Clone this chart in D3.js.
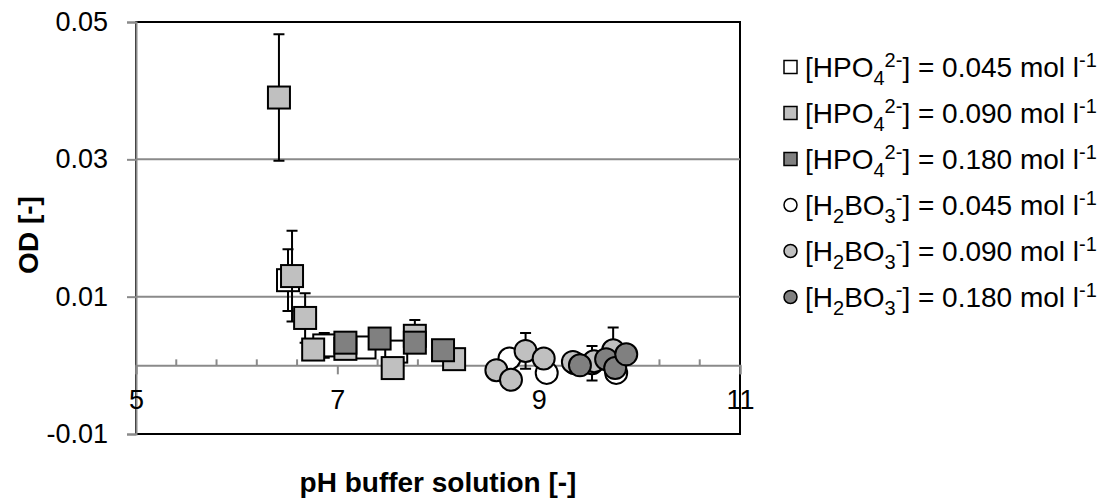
<!DOCTYPE html>
<html><head><meta charset="utf-8">
<script src="https://cdn.jsdelivr.net/npm/d3@7"></script>
<style>body{margin:0;background:#fff}svg{display:block}text{font-family:"Liberation Sans",Arial,sans-serif;fill:#000}</style>
</head><body>
<svg id="c" width="1109" height="501"></svg>
<script>
// ---- data ----
const xTicks = [5, 7, 9, 11];
const yTicks = [-0.01, 0.01, 0.03, 0.05];
const gridY = [0.01, 0.03];

const hpo045_pH  = [6.51, 6.87, 7.27, 7.585];
const hpo045_OD  = [0.0124, 0.0029, 0.0026, 0.0020];
const hpo045_err = [0.0045, 0.0018, 0.0010, 0.0010];

const hpo090_pH  = [6.42, 6.55, 6.68, 6.76, 7.08, 7.55, 7.77, 8.16];
const hpo090_OD  = [0.0390, 0.0130, 0.0069, 0.0023, 0.0024, -0.0004, 0.0043, 0.0009];
const hpo090_err = [0.0092, 0.0066, 0.0036, 0.0010, 0.0008, 0.0010, 0.0023, 0.0008];

const hpo180_pH  = [7.08, 7.42, 7.77, 8.05];
const hpo180_OD  = [0.0033, 0.0039, 0.0033, 0.0022];
const hpo180_err = [0.0010, 0.0008, 0.0010, 0.0006];

const bo045_pH  = [8.71, 9.08, 9.36, 9.53, 9.77];
const bo045_OD  = [0.0010, -0.0011, 0.0003, 0.0003, -0.0011];
const bo045_err = [0.0008, 0.0008, 0.0005, 0.0025, 0.0008];

const bo090_pH  = [8.58, 8.725, 8.87, 9.05, 9.34, 9.55, 9.74];
const bo090_OD  = [-0.0007, -0.0021, 0.0021, 0.0010, 0.0005, 0.0006, 0.0022];
const bo090_err = [0.0005, 0.0005, 0.0026, 0.0008, 0.0005, 0.0008, 0.0033];

const bo180_pH  = [9.41, 9.67, 9.76, 9.87];
const bo180_OD  = [0.0000, 0.0009, -0.0004, 0.0016];
const bo180_err = [0.0005, 0.0006, 0.0005, 0.0006];

const seriesNames = [
  {ion:"HPO", sub:"4", sup:"2-", conc:"0.045"},
  {ion:"HPO", sub:"4", sup:"2-", conc:"0.090"},
  {ion:"HPO", sub:"4", sup:"2-", conc:"0.180"},
  {ion:"H", sub:"2", mid:"BO", sub2:"3", sup:"-", conc:"0.045"},
  {ion:"H", sub:"2", mid:"BO", sub2:"3", sup:"-", conc:"0.090"},
  {ion:"H", sub:"2", mid:"BO", sub2:"3", sup:"-", conc:"0.180"}
];
const series = [
  {x:hpo045_pH, y:hpo045_OD, e:hpo045_err, shape:"square", fill:"#ffffff"},
  {x:hpo090_pH, y:hpo090_OD, e:hpo090_err, shape:"square", fill:"#c0c0c0"},
  {x:hpo180_pH, y:hpo180_OD, e:hpo180_err, shape:"square", fill:"#808080"},
  {x:bo045_pH, y:bo045_OD, e:bo045_err, shape:"circle", fill:"#ffffff"},
  {x:bo090_pH, y:bo090_OD, e:bo090_err, shape:"circle", fill:"#c0c0c0"},
  {x:bo180_pH, y:bo180_OD, e:bo180_err, shape:"circle", fill:"#808080"}
];

// ---- layout ----
const L = 136, R = 740, T = 22, B = 434;
const FONT = '"Liberation Sans",Arial,sans-serif';
const svg = d3.select("#c");
const x = d3.scaleLinear().domain([5, 11]).range([L, R]);
const y = d3.scaleLinear().domain([-0.01, 0.05]).range([B, T]);
const grey = "#8a8a8a";

// plot border
svg.append("rect").attr("x", L).attr("y", T).attr("width", R - L).attr("height", B - T)
  .attr("fill", "none").attr("stroke", "#000").attr("stroke-width", 2);

// gridlines
svg.selectAll(".grid").data(gridY).join("line")
  .attr("x1", L).attr("x2", R).attr("y1", d => y(d)).attr("y2", d => y(d))
  .attr("stroke", grey).attr("stroke-width", 2);

// y axis
const yAxis = d3.axisLeft(y).tickValues(yTicks).tickSize(9).tickPadding(19)
  .tickFormat(d => d3.format(".2f")(d).replace("\u2212", "-"));
const gy = svg.append("g").attr("transform", `translate(${L},0)`).call(yAxis);
gy.select(".domain").attr("stroke", grey).attr("stroke-width", 2);
gy.selectAll(".tick line").attr("stroke", grey).attr("stroke-width", 2);
gy.selectAll(".tick text").style("font-size", "27px").style("font-family", FONT).attr("fill", "#000");

// x axis at y=0
const x0 = y(0);
const minor = d3.range(5, 11.0001, 0.4).filter(v => !xTicks.some(t => Math.abs(t - v) < 1e-6));
svg.selectAll(".minor").data(minor).join("line")
  .attr("x1", d => x(d)).attr("x2", d => x(d)).attr("y1", x0).attr("y2", x0 - 6)
  .attr("stroke", grey).attr("stroke-width", 2);
const xAxis = d3.axisBottom(x).tickValues(xTicks).tickSize(9).tickPadding(16).tickFormat(d3.format("d"));
const gx = svg.append("g").attr("transform", `translate(0,${x0})`).call(xAxis);
gx.select(".domain").attr("stroke", grey).attr("stroke-width", 2);
gx.selectAll(".tick line").attr("stroke", grey).attr("stroke-width", 2);
gx.selectAll(".tick text").style("font-size", "27px").style("font-family", FONT).attr("fill", "#000");

// axis titles
svg.append("text").attr("transform", `translate(38,235) rotate(-90)`).attr("text-anchor", "middle")
  .style("font-size", "28px").style("font-weight", "bold").text("OD [-]");
svg.append("text").attr("x", 438).attr("y", 492).attr("text-anchor", "middle")
  .style("font-size", "28px").style("font-weight", "bold").text("pH buffer solution [-]");

// series
const cap = 5.5, half = 11, rad = 11;
series.forEach(s => {
  const g = svg.append("g");
  const pts = s.x.map((v, i) => ({px: v, py: s.y[i], e: s.e[i]}));
  g.selectAll(".eb").data(pts).join("path")
    .attr("d", d => {
      const cx = x(d.px), t = y(d.py + d.e), b = y(d.py - d.e);
      return `M${cx},${t}V${b}M${cx - cap},${t}H${cx + cap}M${cx - cap},${b}H${cx + cap}`;
    })
    .attr("stroke", "#000").attr("stroke-width", 2).attr("fill", "none");
  if (s.shape === "square") {
    g.selectAll(".m").data(pts).join("rect")
      .attr("x", d => x(d.px) - half).attr("y", d => y(d.py) - half)
      .attr("width", 2 * half).attr("height", 2 * half)
      .attr("fill", s.fill).attr("stroke", "#000").attr("stroke-width", 2);
  } else {
    g.selectAll(".m").data(pts).join("circle")
      .attr("cx", d => x(d.px)).attr("cy", d => y(d.py)).attr("r", rad)
      .attr("fill", s.fill).attr("stroke", "#000").attr("stroke-width", 2);
  }
});

// legend
const lg = svg.append("g");
const rowY = i => 67 + i * 46;
series.forEach((s, i) => {
  const cy = rowY(i);
  if (s.shape === "square") {
    lg.append("rect").attr("x", 784).attr("y", cy - 6.5).attr("width", 13).attr("height", 13)
      .attr("fill", s.fill).attr("stroke", "#000").attr("stroke-width", 1.5);
  } else {
    lg.append("circle").attr("cx", 790.5).attr("cy", cy).attr("r", 6.5)
      .attr("fill", s.fill).attr("stroke", "#000").attr("stroke-width", 1.5);
  }
  const n = seriesNames[i];
  const t = lg.append("text").attr("x", 805).attr("y", cy + 10).style("font-size", "28px");
  t.append("tspan").text("[" + n.ion);
  t.append("tspan").attr("dy", 8).style("font-size", "20px").text(n.sub);
  if (n.mid) {
    t.append("tspan").attr("dy", -8).text(n.mid);
    t.append("tspan").attr("dy", 8).style("font-size", "20px").text(n.sub2);
  }
  t.append("tspan").attr("dy", -18).style("font-size", "20px").text(n.sup);
  t.append("tspan").attr("dy", 10).text("] = " + n.conc + " mol l");
  t.append("tspan").attr("dy", -10).style("font-size", "20px").text("-1");
});
</script>
</body></html>
